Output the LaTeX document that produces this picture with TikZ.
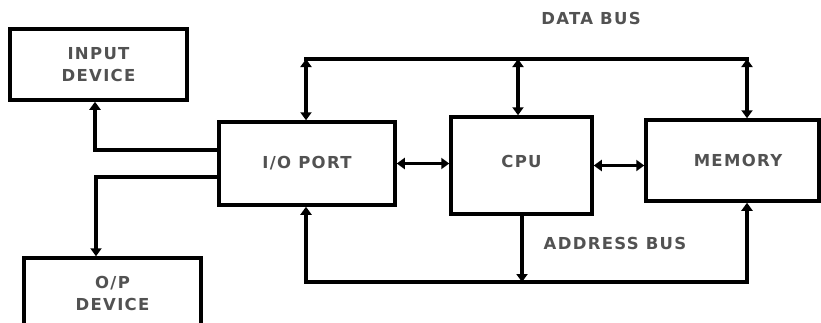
\documentclass[tikz,border=0pt]{standalone}
\usepackage{fontspec}
\setmainfont{DejaVu Sans}[LetterSpace=8]
\usetikzlibrary{arrows.meta}
\begin{document}
\begin{tikzpicture}[x=1pt,y=-1pt,
  txt/.style={font=\fontsize{16.5}{22}\selectfont\bfseries, text=black!68, align=center},
  blk/.style={draw, line width=3.5pt, txt, inner sep=0pt},
  bus/.style={line width=3.5pt, line cap=rect},
  tip/.style={line width=3.5pt, -{Triangle[length=8pt,width=11pt]}},
  dtip/.style={line width=3.5pt, {Triangle[length=8pt,width=11pt]}-{Triangle[length=8pt,width=11pt]}}
]
\useasboundingbox (0,0) rectangle (821,322);
% blocks
\node[blk, minimum width=177pt, minimum height=71pt] (inp) at (98.5,64.5) {INPUT\\DEVICE};
\node[blk, minimum width=177pt, minimum height=70pt] (op) at (112.5,293) {O/P\\DEVICE};
\node[blk, minimum width=176pt, minimum height=83pt] (io) at (307,163.5) {I/O PORT};
\node[blk, minimum width=141pt, minimum height=97pt] (cpu) at (521.5,165.5) {\raisebox{9pt}{CPU}};
\node[blk, minimum width=173pt, minimum height=81pt] (mem) at (732.5,160.5) {\hspace*{11pt}MEMORY};
% labels
\node[txt] (dbl) at (591,18) {DATA BUS};
\node[txt] (abl) at (615,243) {ADDRESS BUS};
% bus coordinates
\coordinate (d1) at (306,59);
\coordinate (d2) at (518,59);
\coordinate (d3) at (747,59);
\coordinate (a1) at (306,282);
\coordinate (a2) at (522,282);
\coordinate (a3) at (747,282);
\coordinate (c1) at (95,150);
\coordinate (c2) at (96,177);
% data bus
\draw[bus] (d1) -- (d3);
\draw[dtip] (d1) -- (d1 |- io.north);
\draw[dtip] (d2) -- (d2 |- cpu.north);
\draw[dtip] (d3) -- (d3 |- mem.north);
% address bus
\draw[bus] (a1) -- (a3);
\draw[tip] (a1) -- (a1 |- io.south);
\draw[tip] (a2 |- cpu.south) -- (a2);
\draw[tip] (a3) -- (a3 |- mem.south);
% horizontal links
\draw[dtip] (io.east) -- (cpu.west |- io.east);
\draw[dtip] (cpu.east) -- (mem.west |- cpu.east);
% devices
\draw[tip] (io.west |- c1) -- (c1) -- (c1 |- inp.south);
\draw[tip] (io.west |- c2) -- (c2) -- (c2 |- op.north);
\end{tikzpicture}
\end{document}
